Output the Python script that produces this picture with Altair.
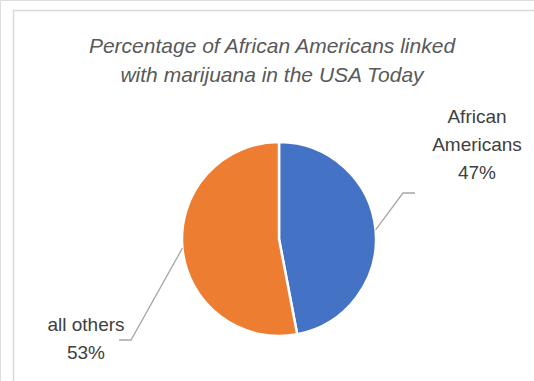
import math
import altair as alt
import pandas as pd

# ---- data ----
categories = ["African Americans", "all others"]
values = [47, 53]
label_lines = ["African\nAmericans\n47%", "all others\n53%"]
colors = ["#4472C4", "#ED7D31"]
title_lines = ["Percentage of African Americans linked", "with marijuana in the USA Today"]

# ---- layout (pixels) ----
W, H = 534, 381
CX, CY, R = 279, 239, 97
label_pos = [(477, 117), (86, 325)]   # centre of first text line
elbow_pos = [(403, 193), (131, 340)]
end_pos = [(415, 193), (119, 340)]
FONT = "Liberation Sans"

pie_df = pd.DataFrame({"cat": categories, "val": values, "idx": list(range(len(values)))})

# leader lines: start at slice mid-angle on the rim
total = sum(values)
rows = []
cum = 0
for i, (c, v) in enumerate(zip(categories, values)):
    mid = (cum + v / 2) / total * 2 * math.pi
    cum += v
    ex, ey = CX + R * math.sin(mid), CY - R * math.cos(mid)
    pts = [(ex, ey), elbow_pos[i], end_pos[i]]
    for j, (px, py) in enumerate(pts):
        rows.append({"cat": c, "o": j, "px": px, "py": py})
line_df = pd.DataFrame(rows)

lab_df = pd.DataFrame({
    "cat": categories,
    "txt": label_lines,
    "px": [p[0] for p in label_pos],
    "py": [p[1] for p in label_pos],
})

xs = alt.Scale(domain=[0, W], range=[0, W])
ys = alt.Scale(domain=[0, H], range=[0, H])

frame = alt.Chart(pd.DataFrame({"a": [0]})).mark_rect(
    fill=None, stroke="#d9d9d9", strokeWidth=1.5
).encode(x=alt.value(13.5), x2=alt.value(W + 20), y=alt.value(10.5), y2=alt.value(H + 20))

pie = alt.Chart(pie_df).mark_arc(
    radius=R, x=CX, y=CY, stroke="white", strokeWidth=2.5
).encode(
    theta=alt.Theta("val:Q", stack=True),
    color=alt.Color("cat:N", scale=alt.Scale(domain=categories, range=colors), legend=None),
    order=alt.Order("idx:Q"),
)

leaders = alt.Chart(line_df).mark_line(color="#a6a6a6", strokeWidth=1.3).encode(
    x=alt.X("px:Q", scale=xs, axis=None),
    y=alt.Y("py:Q", scale=ys, axis=None),
    detail="cat:N",
    order="o:Q",
)

labels = alt.Chart(lab_df).mark_text(
    font=FONT, fontSize=19, color="#404040", align="center", baseline="middle",
    lineBreak="\n", lineHeight=28,
).encode(
    x=alt.X("px:Q", scale=xs, axis=None),
    y=alt.Y("py:Q", scale=ys, axis=None),
    text="txt:N",
)

title = alt.Chart(pd.DataFrame({"t": ["\n".join(title_lines)]})).mark_text(
    font=FONT, fontSize=21, fontStyle="italic", color="#595959", align="center",
    baseline="middle", lineBreak="\n", lineHeight=29,
).encode(x=alt.value(272), y=alt.value(47), text="t:N")

chart = alt.layer(frame, pie, leaders, labels, title).properties(
    width=W, height=H, padding=0, autosize=alt.AutoSizeParams(type="none")
).configure_view(stroke=None).configure(background="white")

chart.save("out.html", embed_options={"renderer": "svg", "actions": False})
